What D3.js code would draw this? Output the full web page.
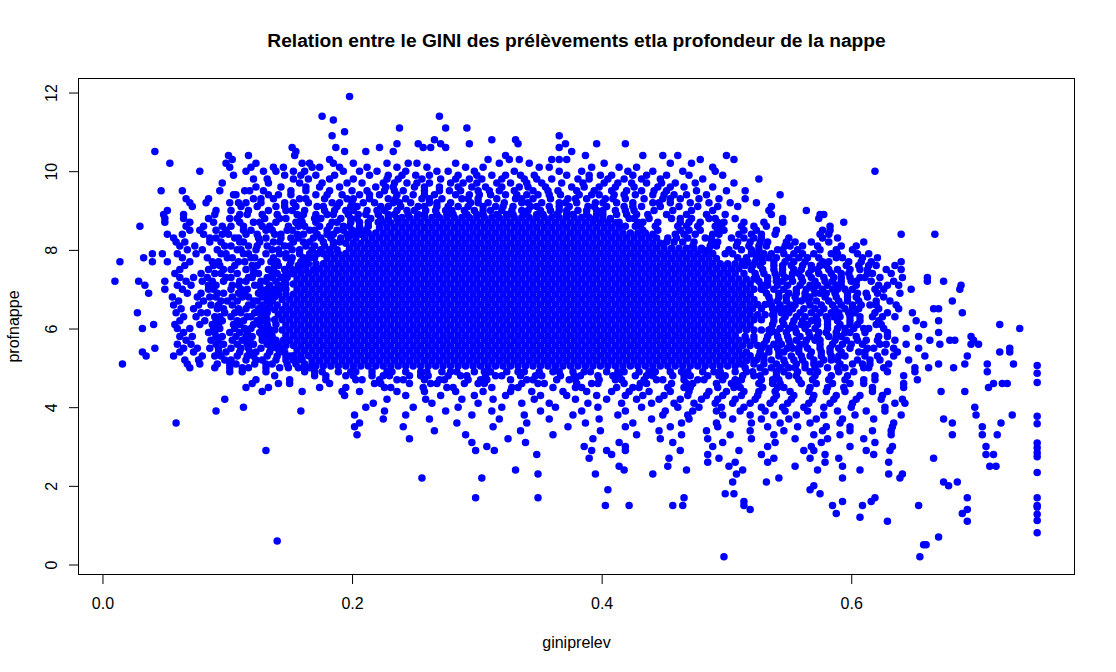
<!DOCTYPE html>
<html lang="fr">
<head>
    <meta charset="UTF-8">
    <title>GINI des prélèvements / profondeur de la nappe</title>
    <script src="https://cdn.jsdelivr.net/npm/d3@7/dist/d3.min.js"></script>
    <style>
        body { margin: 0; background: #fff; }
        svg text { font-family: "Liberation Sans", Arial, sans-serif; fill: #000; }
    </style>
</head>
<body>
    <svg id="chart" width="1116" height="672"></svg>

    <script>
        // axis limits and ticks (R style: data range + 4%)
        const xLimits = [-0.0192, 0.7789];
        const yLimits = [-0.254, 12.357];
        const xTicks = [0.0, 0.2, 0.4, 0.6];
        const yTicks = [0, 2, 4, 6, 8, 10, 12];

        // rows: [profnappe, giniprelev x1000, ...]
        // saturated middle of the cloud, read as solid
        const coreRows = [
            [8.82, 240,246,252,258,264,270,276,282,288,294,300,306,312,318,324,330,336,342,348,354,360,366,372,378,384,390],
            [8.69, 225,231,237,243,249,255,261,267,273,279,285,291,297,303,309,315,321,327,333,339,345,351,357,363,369,375,381,387,393,399,405,411],
            [8.56, 222,228,234,240,246,252,258,264,270,276,282,288,294,300,306,312,318,324,330,336,342,348,354,360,366,372,378,384,390,396,402,408,414],
            [8.43, 201,207,213,219,225,231,237,243,249,255,261,267,273,279,285,291,297,303,309,315,321,327,333,339,345,351,357,363,369,375,381,387,393,399,405,411,417,423,429,435],
            [8.30, 210,216,222,228,234,240,246,252,258,264,270,276,282,288,294,300,306,312,318,324,330,336,342,348,354,360,366,372,378,384,390,396,402,408,414,420,426,432,438,444],
            [8.17, 195,201,207,213,219,225,231,237,243,249,255,261,267,273,279,285,291,297,303,309,315,321,327,333,339,345,351,357,363,369,375,381,387,393,399,405,411,417,423,429,435,441,447],
            [8.04, 198,204,210,216,222,228,234,240,246,252,258,264,270,276,282,288,294,300,306,312,318,324,330,336,342,348,354,360,366,372,378,384,390,396,402,408,414,420,426,432,438,444,450,456,462,468,474,480],
            [7.91, 177,183,189,195,201,207,213,219,225,231,237,243,249,255,261,267,273,279,285,291,297,303,309,315,321,327,333,339,345,351,357,363,369,375,381,387,393,399,405,411,417,423,429,435,441,447,453,459,465,471,477,483,489],
            [7.78, 180,186,192,198,204,210,216,222,228,234,240,246,252,258,264,270,276,282,288,294,300,306,312,318,324,330,336,342,348,354,360,366,372,378,384,390,396,402,408,414,420,426,432,438,444,450,456,462,468,474,480,486,492],
            [7.65, 165,171,177,183,189,195,201,207,213,219,225,231,237,243,249,255,261,267,273,279,285,291,297,303,309,315,321,327,333,339,345,351,357,363,369,375,381,387,393,399,405,411,417,423,429,435,441,447,453,459,465,471,477,483,489,495,501,507,513],
            [7.52, 174,180,186,192,198,204,210,216,222,228,234,240,246,252,258,264,270,276,282,288,294,300,306,312,318,324,330,336,342,348,354,360,366,372,378,384,390,396,402,408,414,420,426,432,438,444,450,456,462,468,474,480,486,492,498,504,510],
            [7.39, 147,153,159,165,171,177,183,189,195,201,207,213,219,225,231,237,243,249,255,261,267,273,279,285,291,297,303,309,315,321,327,333,339,345,351,357,363,369,375,381,387,393,399,405,411,417,423,429,435,441,447,453,459,465,471,477,483,489,495,501],
            [7.26, 156,162,168,174,180,186,192,198,204,210,216,222,228,234,240,246,252,258,264,270,276,282,288,294,300,306,312,318,324,330,336,342,348,354,360,366,372,378,384,390,396,402,408,414,420,426,432,438,444,450,456,462,468,474,480,486,492,498,504,510,516,522],
            [7.13, 147,153,159,165,171,177,183,189,195,201,207,213,219,225,231,237,243,249,255,261,267,273,279,285,291,297,303,309,315,321,327,333,339,345,351,357,363,369,375,381,387,393,399,405,411,417,423,429,435,441,447,453,459,465,471,477,483,489,495,501,507,513,519],
            [7.00, 156,162,168,174,180,186,192,198,204,210,216,222,228,234,240,246,252,258,264,270,276,282,288,294,300,306,312,318,324,330,336,342,348,354,360,366,372,378,384,390,396,402,408,414,420,426,432,438,444,450,456,462,468,474,480,486,492,498,504,510,516,522,528],
            [6.87, 141,147,153,159,165,171,177,183,189,195,201,207,213,219,225,231,237,243,249,255,261,267,273,279,285,291,297,303,309,315,321,327,333,339,345,351,357,363,369,375,381,387,393,399,405,411,417,423,429,435,441,447,453,459,465,471,477,483,489,495,501,507,513,519],
            [6.74, 144,150,156,162,168,174,180,186,192,198,204,210,216,222,228,234,240,246,252,258,264,270,276,282,288,294,300,306,312,318,324,330,336,342,348,354,360,366,372,378,384,390,396,402,408,414,420,426,432,438,444,450,456,462,468,474,480,486,492,498,504,510,516,522],
            [6.61, 153,159,165,171,177,183,189,195,201,207,213,219,225,231,237,243,249,255,261,267,273,279,285,291,297,303,309,315,321,327,333,339,345,351,357,363,369,375,381,387,393,399,405,411,417,423,429,435,441,447,453,459,465,471,477,483,489,495,501,507,513,519,525,531],
            [6.48, 132,138,144,150,156,162,168,174,180,186,192,198,204,210,216,222,228,234,240,246,252,258,264,270,276,282,288,294,300,306,312,318,324,330,336,342,348,354,360,366,372,378,384,390,396,402,408,414,420,426,432,438,444,450,456,462,468,474,480,486,492,498,504,510,516],
            [6.35, 141,147,153,159,165,171,177,183,189,195,201,207,213,219,225,231,237,243,249,255,261,267,273,279,285,291,297,303,309,315,321,327,333,339,345,351,357,363,369,375,381,387,393,399,405,411,417,423,429,435,441,447,453,459,465,471,477,483,489,495,501,507,513,519,525,531,537],
            [6.22, 132,138,144,150,156,162,168,174,180,186,192,198,204,210,216,222,228,234,240,246,252,258,264,270,276,282,288,294,300,306,312,318,324,330,336,342,348,354,360,366,372,378,384,390,396,402,408,414,420,426,432,438,444,450,456,462,468,474,480,486,492,498,504,510,516,522,528],
            [6.09, 147,153,159,165,171,177,183,189,195,201,207,213,219,225,231,237,243,249,255,261,267,273,279,285,291,297,303,309,315,321,327,333,339,345,351,357,363,369,375,381,387,393,399,405,411,417,423,429,435,441,447,453,459,465,471,477,483,489,495,501,507,513,519],
            [5.96, 138,144,150,156,162,168,174,180,186,192,198,204,210,216,222,228,234,240,246,252,258,264,270,276,282,288,294,300,306,312,318,324,330,336,342,348,354,360,366,372,378,384,390,396,402,408,414,420,426,432,438,444,450,456,462,468,474,480,486,492,498,504,510,516,522,528,534],
            [5.83, 147,153,159,165,171,177,183,189,195,201,207,213,219,225,231,237,243,249,255,261,267,273,279,285,291,297,303,309,315,321,327,333,339,345,351,357,363,369,375,381,387,393,399,405,411,417,423,429,435,441,447,453,459,465,471,477,483,489,495,501,507],
            [5.70, 156,162,168,174,180,186,192,198,204,210,216,222,228,234,240,246,252,258,264,270,276,282,288,294,300,306,312,318,324,330,336,342,348,354,360,366,372,378,384,390,396,402,408,414,420,426,432,438,444,450,456,462,468,474,480,486,492,498,504,510,516,522],
            [5.57, 147,153,159,165,171,177,183,189,195,201,207,213,219,225,231,237,243,249,255,261,267,273,279,285,291,297,303,309,315,321,327,333,339,345,351,357,363,369,375,381,387,393,399,405,411,417,423,429,435,441,447,453,459,465,471,477,483,489,495,501,507,513,519,525],
            [5.44, 156,162,168,174,180,186,192,198,204,210,216,222,228,234,240,246,252,258,264,270,276,282,288,294,300,306,312,318,324,330,336,342,348,354,360,366,372,378,384,390,396,402,408,414,420,426,432,438,444,450,456,462,468,474,480,486,492,498,504,510],
            [5.31, 153,159,165,171,177,183,189,195,201,207,213,219,225,231,237,243,249,255,261,267,273,279,285,291,297,303,309,315,321,327,333,339,345,351,357,363,369,375,381,387,393,399,405,411,417,423,429,435,441,447,453,459,465,471,477,483,489,495,501,507,513,519],
            [5.18, 168,174,180,186,192,198,204,210,216,222,228,234,240,246,252,258,264,270,276,282,288,294,300,306,312,318,324,330,336,342,348,354,360,366,372,378,384,390,396,402,408,414,420,426,432,438,444,450,456,462,468,474,480,486,492,498,504,510,516,522],
            [5.05, 171,177,183,189,195,201,207,213,219,225,231,237,243,249,255,261,267,273,279,285,291,297,303,309,315,321,327,333,339,345,351,357,363,369,375,381,387,393,399,405,411,417,423,429,435,441,447,453,459,465,471,477,483,489,495,501,507]
        ];

        // the looser points above the cloud
        const upperRows = [
            [11.9, 198],
            [11.4, 176,270],
            [11.3, 185],
            [11.1, 238,275,292],
            [11.0, 194],
            [10.9, 184,366],
            [10.8, 266,312,331],
            [10.7, 236,253,271,294,333,371,396,419],
            [10.6, 152,187,222,257,263,275,366],
            [10.5, 42,155,194,211,233,376],
            [10.4, 101,117,154,323,387,433,449,461,500],
            [10.3, 104,182,309,326,334,360,366,372,479,506],
            [10.2, 54,99,123,160,166,185,201,228,245,252,283,318,342,402,455,472],
            [10.1, 102,119,137,145,168,174,190,212,236,260,291,305,350,358,392,414,428,489],
            [10.0, 78,115,129,139,153,162,193,206,220,243,268,277,298,330,366,384,421,441,465,491,619],
            [9.9, 105,146,159,171,186,214,229,251,262,285,312,323,346,372,399,408,436,452,470,497,240,300,335,390,425],
            [9.8, 121,132,153,165,182,201,237,256,271,294,304,338,360,381,390,418,447,481,526,228,283,320,348,405,432],
            [9.7, 96,133,158,176,196,208,225,244,262,279,289,316,327,352,368,402,424,436,459,475,506,234,252,300,340,385,413,448],
            [9.6, 123,143,163,174,190,219,233,250,270,296,307,334,341,376,386,411,445,466,489,227,258,285,320,355,398,426,455],
            [9.5, 47,64,94,114,118,129,151,163,182,200,212,226,241,258,278,287,301,318,330,357,365,394,420,432,452,476,500,515,234,270,310,345,380,408,442],
            [9.4, 105,107,133,141,151,171,180,192,206,222,236,249,266,283,294,311,323,340,349,367,382,398,410,427,441,458,468,484,543,214,258,302,332,358,392,418,450],
            [9.3, 67,85,121,127,137,158,163,178,196,201,214,229,235,243,256,262,272,288,293,301,316,331,336,345,359,373,379,388,403,409,419,434,449,455,463,478,494,515],
            [9.2, 70,83,102,109,115,127,146,153,165,184,190,200,209,218,233,238,247,262,268,279,295,301,309,322,336,341,352,366,371,380,395,401,412,425,441,446,455,471,486,503,524],
            [9.1, 72,111,124,139,146,155,172,177,188,199,204,223,229,239,253,258,268,277,285,293,305,315,321,329,343,348,358,366,374,389,394,404,418,425,432,447,462,477,493,509,536],
            [9.0, 52,91,103,117,133,147,152,162,178,186,195,201,212,220,226,236,244,250,259,267,275,280,290,298,305,311,320,328,336,341,351,359,366,372,381,388,396,401,411,419,426,442,457,472,489,534,564],
            [8.9, 49,65,90,110,116,128,140,156,161,171,180,185,197,205,211,221,229,234,245,253,258,268,276,281,292,300,305,316,324,329,340,348,353,364,372,377,388,396,401,412,420,428,437,452,468,484,499,536,575,578],
            [8.8, 50,65,85,102,108,130,142,147,159,170,175,191,199,204,215,223,229,236,395,401,407,422,426,438,456,463,472,486,491,507,545,574],
            [8.7, 50,70,89,110,121,126,139,155,160,171,184,188,199,206,213,221,414,429,433,445,463,470,479,493,498,514,530,545,594],
            [8.6, 30,67,81,96,103,113,128,134,149,157,162,174,182,193,198,206,213,419,427,431,443,461,468,477,491,496,512,522,532,583],
            [8.5, 70,78,91,99,113,119,131,136,148,152,166,170,180,188,193,200,205,211,433,445,463,470,479,493,498,514,524,540,577,583],
            [8.4, 52,64,81,96,101,115,124,138,143,156,161,172,180,185,196,201,207,441,459,466,475,489,494,510,520,528,539,575,582,640,667],
            [8.3, 57,86,91,106,109,125,131,143,151,157,169,175,183,191,197,203,453,460,469,483,488,504,514,522,528,550,577,589],
            [8.2, 59,66,86,95,110,113,126,137,142,153,161,166,177,185,190,452,458,465,474,488,493,509,519,527,533,548,555,568,582,610],
            [8.1, 62,74,98,103,117,124,132,146,150,163,170,178,185,473,487,492,508,518,526,532,547,551,561,573,592,604],
            [8.0, 68,80,92,108,111,123,136,141,152,158,168,175,182,188,481,486,502,512,520,526,541,545,557,575,588,601]
        ];

        // left and right flanks of the cloud
        const middleRows = [
            [7.9, 40,48,60,75,95,99,113,117,131,142,147,158,166,172,177,499,505,520,524,536,554,561,570,584,589,605,614,530,546],
            [7.8, 33,64,84,100,104,119,122,137,147,152,161,166,170,509,524,528,540,558,565,574,588,593,609,621,516,534,550],
            [7.7, 14,40,52,70,88,93,109,114,127,135,140,151,159,164,513,517,529,547,554,563,577,582,598,608,616,640,523,538],
            [7.6, 66,89,94,106,120,124,138,141,150,157,162,515,527,545,552,561,575,580,596,606,614,620,635,521,538,568],
            [7.5, 62,85,97,103,115,121,133,137,146,152,157,163,169,520,538,545,554,568,573,589,599,607,613,628,640,529,560,582],
            [7.4, 58,79,90,95,108,121,125,136,140,148,152,523,530,539,553,558,574,584,592,598,613,617,632,545,566,507,514],
            [7.3, 62,73,84,99,103,117,120,132,136,143,148,524,533,547,552,568,578,586,592,607,611,623,641,661,540,560,599],
            [7.2, 10,29,50,67,80,88,97,110,115,127,131,139,146,526,540,545,561,571,579,585,600,604,616,634,661,674,533,553,592],
            [7.1, 34,60,71,85,91,104,109,122,126,134,141,145,528,533,549,559,567,573,588,592,604,622,629,638,688,541,581],
            [7.0, 50,64,85,89,103,111,116,127,132,138,142,147,530,546,556,564,570,585,589,601,619,626,648,687,538,577,595],
            [6.9, 37,68,79,92,97,109,114,125,130,135,139,532,542,550,556,571,575,587,605,612,621,639,563,580,597],
            [6.8, 56,76,86,91,104,112,117,128,133,138,534,542,548,563,567,579,597,604,613,626,555,588],
            [6.7, 61,81,95,100,108,121,124,132,136,535,541,556,560,572,590,597,606,620,631,681,548,566,582],
            [6.6, 57,77,87,93,104,117,120,128,134,140,147,536,551,555,567,585,592,601,615,620,636,543,576,608],
            [6.5, 63,73,92,97,109,115,125,129,132,537,541,553,571,578,587,601,606,622,638,666,670,547,562,595,521,528],
            [6.4, 28,59,79,84,98,106,111,122,127,132,538,550,568,575,584,598,603,619,629,649,689,544,559,590],
            [6.3, 65,75,90,94,103,116,119,127,131,538,556,563,572,586,591,607,617,625,635,547,580,599],
            [6.2, 62,82,91,96,108,113,124,128,131,538,545,554,568,573,589,599,607,622,652,670,561,581],
            [6.1, 41,58,78,88,93,105,110,121,126,132,139,537,546,560,565,581,591,599,605,620,624,658,719,553,573],
            [6.0, 32,60,70,89,94,106,114,119,128,133,536,550,555,571,581,589,595,610,614,626,644,735,543,563,602],
            [5.9, 65,85,90,102,110,116,126,131,135,535,540,556,566,574,580,595,599,611,629,670,548,588],
            [5.8, 62,72,91,96,107,115,120,128,133,136,533,549,559,567,573,588,592,604,622,629,654,696,541,582,515,522],
            [5.7, 67,87,93,104,112,118,128,134,139,145,150,532,542,550,556,571,575,587,605,612,621,635,663,679,683,698,564,596],
            [5.6, 60,71,91,97,108,116,121,132,137,141,530,538,544,559,563,575,593,600,609,623,628,644,671,696,702,551,585],
            [5.5, 42,65,76,86,93,103,111,117,127,135,140,144,528,534,549,553,565,583,590,599,613,618,634,654,727,541,558,575],
            [5.4, 32,62,73,93,99,110,118,123,134,142,146,527,542,546,558,576,583,592,606,611,627,637,719,727,534,568,516],
            [5.3, 35,57,80,90,95,108,116,121,132,140,147,150,526,530,542,560,567,576,590,595,611,621,634,659,693,552,584],
            [5.2, 66,77,98,103,115,123,128,139,147,153,156,160,524,536,554,561,570,584,589,605,615,623,646,530,546,578],
            [5.1, 16,68,78,92,102,107,122,131,136,148,155,162,168,512,522,540,547,556,570,575,591,601,609,615,630,670,691,709,730,530,563],
            [5.0, 70,90,102,112,117,131,142,149,157,162,166,515,527,536,550,555,571,581,589,595,610,614,626,651,662,682,543,563]
        ];

        // the tail below the cloud
        const lowerRows = [
            [4.9, 102,112,131,162,170,176,189,199,203,216,228,232,243,255,260,272,279,284,298,306,311,324,333,338,350,361,366,377,386,391,404,413,418,430,438,443,455,464,469,481,490,495,507,516,521,531,540,546,557,567,573,590,602,629,651,709],
            [4.8, 138,170,179,195,201,216,225,230,246,255,261,277,287,292,307,315,320,335,347,352,367,378,383,397,409,414,427,436,441,457,466,471,485,494,499,513,522,527,540,550,556,571,584,597,619,642],
            [4.7, 123,150,179,203,208,222,236,241,258,270,274,293,303,308,327,340,345,364,374,379,398,411,416,434,444,449,466,477,482,497,507,512,528,537,542,558,569,582,595,610,619,653],
            [4.6, 120,141,150,182,218,223,246,263,268,290,301,306,336,349,354,380,392,397,418,431,436,456,468,473,492,504,509,526,537,543,560,572,585,599,610,642,714,721,725],
            [4.5, 115,133,174,195,226,231,257,276,281,312,328,333,361,379,384,412,425,430,453,466,471,493,506,511,529,541,546,567,581,594,617,642,710],
            [4.4, 128,160,192,206,236,258,283,305,327,344,369,388,408,422,438,455,470,486,500,514,526,539,551,566,580,595,617,629,672,691],
            [4.3, 194,243,271,298,323,351,372,396,419,433,450,469,484,497,512,525,540,554,570,588,607,625],
            [4.2, 98,228,259,288,313,346,379,404,428,446,463,480,493,507,523,538,552,569,586,604,624,641],
            [4.1, 217,264,301,336,358,389,416,440,458,474,491,505,519,535,549,566,583,601,635,643],
            [4.0, 113,211,249,285,320,363,397,432,461,478,496,514,528,545,562,578,600,627,699],
            [3.9, 91,159,226,275,312,351,384,419,451,473,492,511,531,547,565,589,612,627],
            [3.8, 202,243,296,338,377,413,449,469,497,519,538,556,578,603,640,700,729],
            [3.7, 225,262,318,358,398,440,470,505,528,550,572,593,618,674],
            [3.6, 59,206,284,340,387,425,464,492,520,543,567,591,634,681,720],
            [3.5, 202,241,313,373,419,455,493,533,557,580,599,633,705],
            [3.4, 266,335,399,446,484,519,546,577,599,617,632],
            [3.3, 204,291,361,428,464,503,538,570,591,632,681,705,717],
            [3.2, 246,325,393,447,485,520,555,581,610],
            [3.1, 296,339,414,457,497,539,576,619],
            [3.0, 308,386,419,489,533,568,599,633,708],
            [2.9, 131,299,314,392,404,419,463,510,562,570,612,631],
            [2.8, 348,408,485,528,579,618,708,714],
            [2.7, 390,454,494,538,567,590,666],
            [2.6, 485,507,533,579,630],
            [2.5, 414,453,502,555,593,711,716],
            [2.4, 331,418,468,513,573,607],
            [2.3, 349,395,441,508,630,641],
            [2.2, 256,304,542,593,639],
            [2.1, 505,532,674,685],
            [2.0, 570,678],
            [1.9, 405,567],
            [1.8, 499,506,575],
            [1.7, 299,349,466,619,693],
            [1.6, 514,593,616],
            [1.5, 403,422,457,465,514,585,609,654],
            [1.4, 519,693],
            [1.3, 588,689],
            [1.2, 607],
            [1.1, 629,693],
            [0.7, 670],
            [0.6, 140],
            [0.5, 658,660],
            [0.2, 498,655]
        ];

        // the column of points at the maximum GINI value
        const maxGini = 0.749;
        const maxGiniProf = [0.81, 1.12, 1.28, 1.46, 1.50, 1.70, 2.34, 2.74, 2.84, 2.97, 3.09, 3.58, 3.77, 4.63, 4.86, 5.06];

        const svg = d3.select("#chart");
        const boxLeft = 78.5, boxRight = 1074.5, boxTop = 78.5, boxBottom = 574.5;

        const x = d3.scaleLinear().domain(xLimits).range([boxLeft, boxRight]);
        const y = d3.scaleLinear().domain(yLimits).range([boxBottom, boxTop]);

        const toPoints = rows => rows.flatMap(r => r.slice(1).map(v => ({gini: v / 1000, prof: r[0]})));

        let points = [].concat(
            toPoints(coreRows),
            toPoints(upperRows),
            toPoints(middleRows),
            toPoints(lowerRows),
            maxGiniProf.map(p => ({gini: maxGini, prof: p}))
        );

        svg.append("rect")
            .attr("width", 1116).attr("height", 672)
            .attr("fill", "#fff");

        svg.append("g")
            .selectAll("circle")
            .data(points)
            .join("circle")
            .attr("cx", d => x(d.gini))
            .attr("cy", d => y(d.prof))
            .attr("r", 3.75)
            .attr("fill", "#0000ff");

        // box
        svg.append("rect")
            .attr("x", boxLeft).attr("y", boxTop)
            .attr("width", boxRight - boxLeft).attr("height", boxBottom - boxTop)
            .attr("fill", "none")
            .attr("stroke", "#000")
            .attr("stroke-width", 1);

        let xAxis = svg.append("g")
            .attr("transform", `translate(0,${boxBottom})`)
            .call(d3.axisBottom(x).tickValues(xTicks).tickSize(9.5).tickFormat(d3.format(".1f")));
        xAxis.select(".domain").remove();
        xAxis.selectAll("line").attr("stroke", "#000");
        xAxis.selectAll("text")
            .attr("y", 34.5).attr("dy", null)
            .style("font-size", "16px")
            .attr("fill", "#000");

        let yAxis = svg.append("g")
            .attr("transform", `translate(${boxLeft},0)`)
            .call(d3.axisLeft(y).tickValues(yTicks).tickSize(9.5));
        yAxis.select(".domain").remove();
        yAxis.selectAll("line").attr("stroke", "#000");
        yAxis.selectAll("text")
            .attr("x", null).attr("dy", null)
            .attr("text-anchor", "middle")
            .attr("transform", "translate(-21.5,0) rotate(-90)")
            .style("font-size", "16px")
            .attr("fill", "#000");

        svg.append("text")
            .attr("x", (boxLeft + boxRight) / 2).attr("y", 47)
            .attr("text-anchor", "middle")
            .style("font-size", "19.2px")
            .style("font-weight", "bold")
            .text("Relation entre le GINI des prélèvements etla profondeur de la nappe");

        svg.append("text")
            .attr("x", (boxLeft + boxRight) / 2).attr("y", 648)
            .attr("text-anchor", "middle")
            .style("font-size", "16px")
            .text("giniprelev");

        svg.append("text")
            .attr("transform", `translate(18.5,${(boxTop + boxBottom) / 2}) rotate(-90)`)
            .attr("text-anchor", "middle")
            .style("font-size", "16px")
            .text("profnappe");
    </script>
</body>
</html>
